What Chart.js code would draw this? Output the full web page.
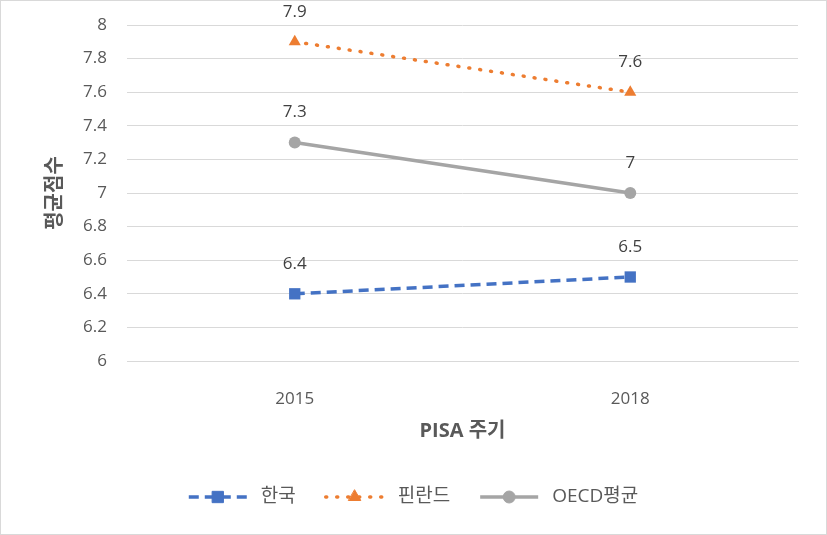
<!DOCTYPE html>
<html lang="ko">
<head>
<meta charset="utf-8">
<title>PISA 평균점수</title>
<script src="https://cdn.jsdelivr.net/npm/chart.js@4/dist/chart.umd.min.js"></script>
<style>
  html, body { margin: 0; padding: 0; background: #fff; }
  #wrap { position: relative; width: 825px; height: 533px; border: 1px solid #d9d9d9; }
</style>
</head>
<body>
<div id="wrap"><canvas id="chart" width="825" height="533"></canvas></div>
<script>
// 데이터
const cycles = ["2015", "2018"];
const korea = [6.4, 6.5];
const finland = [7.9, 7.6];
const oecd = [7.3, 7.0];
const seriesNames = ["한국", "핀란드", "OECD평균"];
const yTicks = [6, 6.2, 6.4, 6.6, 6.8, 7, 7.2, 7.4, 7.6, 7.8, 8];

const FONT = "'Open Sans', 'Noto Sans CJK KR', sans-serif";
const TEXT = "#595959";

// 점 위 값 표시
const valueLabels = {
  id: "valueLabels",
  afterDatasetsDraw(chart) {
    const ctx = chart.ctx;
    ctx.save();
    ctx.font = "17px " + FONT;
    ctx.fillStyle = "#404040";
    ctx.textAlign = "center";
    ctx.textBaseline = "middle";
    chart.data.datasets.forEach((ds, i) => {
      chart.getDatasetMeta(i).data.forEach((pt, j) => {
        ctx.fillText(String(ds.data[j]), pt.x, pt.y - 30);
      });
    });
    ctx.restore();
  }
};

// 범례 (선 + 마커)
const lineLegend = {
  id: "lineLegend",
  afterDraw(chart) {
    const ctx = chart.ctx;
    const y = 496;
    const sample = 58, gapText = 14, gapItem = 30;
    ctx.save();
    ctx.font = "19px " + FONT;
    const items = chart.data.datasets.map(ds => ({ ds, w: ctx.measureText(ds.label).width }));
    const total = items.reduce((s, it) => s + sample + gapText + it.w, 0) + gapItem * (items.length - 1);
    let x = (chart.width - total) / 2;
    items.forEach(({ ds, w }) => {
      ctx.strokeStyle = ds.borderColor;
      ctx.lineWidth = ds.borderWidth;
      ctx.lineCap = ds.borderCapStyle || "butt";
      ctx.setLineDash(ds.borderDash || []);
      ctx.beginPath();
      ctx.moveTo(x, y);
      ctx.lineTo(x + sample, y);
      ctx.stroke();
      ctx.setLineDash([]);
      ctx.fillStyle = ds.pointBackgroundColor;
      ctx.strokeStyle = ds.pointBorderColor;
      ctx.lineWidth = 1;
      Chart.helpers.drawPoint(ctx, {
        pointStyle: ds.pointStyle,
        radius: ds.pointRadius,
        borderWidth: 1,
        rotation: 0
      }, x + sample / 2, y);
      ctx.fillStyle = TEXT;
      ctx.textBaseline = "middle";
      ctx.textAlign = "left";
      ctx.fillText(ds.label, x + sample + gapText, y);
      x += sample + gapText + w + gapItem;
    });
    ctx.restore();
  }
};

new Chart(document.getElementById("chart").getContext("2d"), {
  type: "line",
  data: {
    labels: cycles,
    datasets: [
      {
        label: seriesNames[0],
        data: korea,
        borderColor: "#4472C4",
        backgroundColor: "#4472C4",
        borderWidth: 3.5,
        borderDash: [10, 6],
        pointStyle: "rect",
        pointRadius: 8,
        pointBorderWidth: 0,
        pointBackgroundColor: "#4472C4",
        pointBorderColor: "#4472C4"
      },
      {
        label: seriesNames[1],
        data: finland,
        borderColor: "#ED7D31",
        backgroundColor: "#ED7D31",
        borderWidth: 3.5,
        borderDash: [1, 10],
        borderCapStyle: "round",
        pointStyle: "triangle",
        pointRadius: 7,
        pointBorderWidth: 0,
        pointBackgroundColor: "#ED7D31",
        pointBorderColor: "#ED7D31"
      },
      {
        label: seriesNames[2],
        data: oecd,
        borderColor: "#A5A5A5",
        backgroundColor: "#A5A5A5",
        borderWidth: 3.5,
        pointStyle: "circle",
        pointRadius: 6,
        pointBorderWidth: 0,
        pointBackgroundColor: "#A5A5A5",
        pointBorderColor: "#A5A5A5"
      }
    ]
  },
  options: {
    responsive: false,
    animation: false,
    layout: { padding: { top: 24, right: 28, bottom: 75, left: 0 } },
    plugins: {
      legend: { display: false },
      tooltip: { enabled: false }
    },
    scales: {
      x: {
        offset: true,
        grid: { display: false },
        border: { color: "#d9d9d9", width: 1 },
        ticks: { color: TEXT, font: { family: FONT, size: 17 }, padding: 20 },
        title: {
          display: true,
          text: "PISA 주기",
          color: TEXT,
          font: { family: FONT, size: 20, weight: "bold" },
          padding: { top: 0, bottom: 16 }
        },
        afterFit: s => { s.height = 98; }
      },
      y: {
        min: 6,
        max: 8,
        afterBuildTicks: s => { s.ticks = yTicks.map(v => ({ value: v })); },
        grid: { color: "#d9d9d9", lineWidth: 1, drawTicks: false },
        border: { display: false },
        ticks: {
          color: TEXT,
          font: { family: FONT, size: 17 },
          padding: 20,
          callback: v => String(v)
        },
        title: {
          display: true,
          text: "평균점수",
          color: TEXT,
          font: { family: FONT, size: 20, weight: "bold" },
          padding: { top: 42, bottom: 0 }
        },
        afterFit: s => { s.width = 126; s.paddingTop = 0; }
      }
    }
  },
  plugins: [valueLabels, lineLegend]
});
</script>
</body>
</html>
